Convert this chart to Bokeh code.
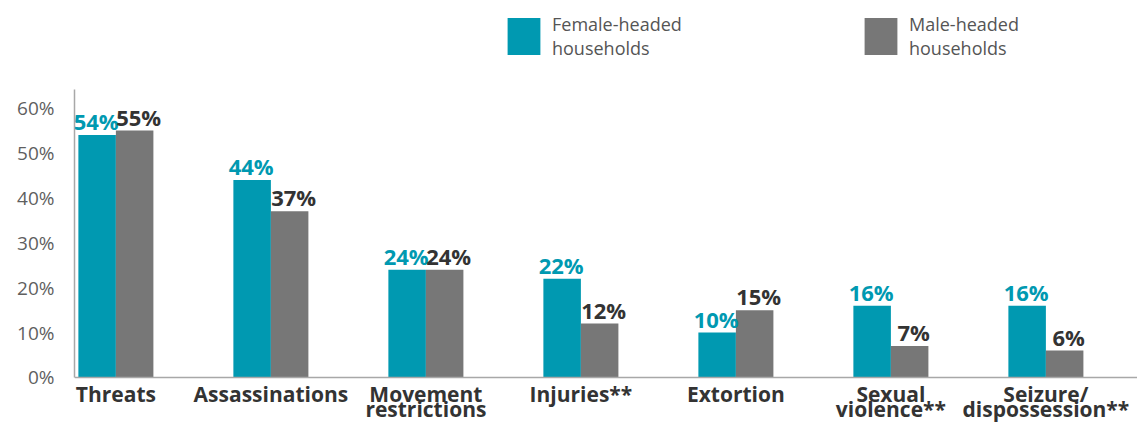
from bokeh.plotting import figure
from bokeh.models import (ColumnDataSource, FixedTicker, LabelSet, Legend, LegendItem,
                          Range1d, Span)
from bokeh.core.properties import value
from bokeh.embed import file_html
from bokeh.resources import INLINE

# ---- data ----
categories = ["Threats", "Assassinations", "Movement\nrestrictions", "Injuries**",
              "Extortion", "Sexual\nviolence**", "Seizure/\ndispossession**"]
female = [54, 44, 24, 22, 10, 16, 16]
male = [55, 37, 24, 12, 15, 7, 6]
series_names = ["Female-headed\nhouseholds", "Male-headed\nhouseholds"]
y_ticks = [0, 10, 20, 30, 40, 50, 60]
y_tick_labels = ["0%", "10%", "20%", "30%", "40%", "50%", "60%"]

TEAL = "#0099B1"
GREY = "#777777"
DARK = "#333333"
AXIS = "#a8a8a8"
FONT = "Open Sans"

pos = list(range(len(categories)))
bw = 0.242
cat_lines = [c.split("\n") + [""] * (2 - len(c.split("\n"))) for c in categories]

src = ColumnDataSource(dict(
    pos=pos,
    xf=[p_ - bw / 2 for p_ in pos],
    xm=[p_ + bw / 2 for p_ in pos],
    female=female,
    male=male,
    flab=[f"{v}%" for v in female],
    mlab=[f"{v}%" for v in male],
    cat1=[l[0] for l in cat_lines],
    cat2=[l[1] for l in cat_lines],
    zero=[0] * len(categories),
))

p = figure(width=1137, height=423, output_backend="svg", toolbar_location=None,
           x_range=Range1d(-0.267, 6.591), y_range=Range1d(-10.245, 83.96),
           x_axis_location=None,
           min_border_left=74, min_border_right=0, min_border_top=0,
           min_border_bottom=0)
p.outline_line_color = None
p.xgrid.grid_line_color = None
p.ygrid.grid_line_color = None
p.background_fill_color = None
p.border_fill_color = None

rf = p.vbar(x="xf", top="female", width=bw, bottom=0, source=src,
            fill_color=TEAL, line_color=None)
rm = p.vbar(x="xm", top="male", width=bw, bottom=0, source=src,
            fill_color=GREY, line_color=None)

# y axis
p.yaxis.ticker = FixedTicker(ticks=y_ticks)
p.yaxis.major_label_overrides = {t: l for t, l in zip(y_ticks, y_tick_labels)}
p.yaxis.bounds = (0, 64.1)
p.yaxis.major_tick_line_color = None
p.yaxis.minor_tick_line_color = None
p.yaxis.major_tick_out = 0
p.yaxis.major_tick_in = 0
p.yaxis.major_label_standoff = 20
p.yaxis.major_label_text_font = FONT
p.yaxis.major_label_text_font_size = "19px"
p.yaxis.major_label_text_color = "#5f5f5f"
p.yaxis.axis_line_color = AXIS
p.yaxis.axis_line_width = 1.5

# category baseline (x axis line)
p.add_layout(Span(location=0, dimension="width", line_color=AXIS, line_width=1.5))

# category labels (two centred lines)
for col, off in (("cat1", -25), ("cat2", -40)):
    p.add_layout(LabelSet(x="pos", y="zero", text=col, source=src, y_offset=off,
                          text_align="center", text_baseline="alphabetic",
                          text_font=value(FONT), text_font_style="bold",
                          text_font_size="21px", text_color=DARK))

# value labels
p.add_layout(LabelSet(x="xf", y="female", text="flab", source=src, y_offset=5,
                      x_offset=-1,
                      text_align="center", text_baseline="alphabetic",
                      text_font=value(FONT), text_font_style="bold",
                      text_font_size="22px", text_color=TEAL))
p.add_layout(LabelSet(x="xm", y="male", text="mlab", source=src, y_offset=5,
                      x_offset=4,
                      text_align="center", text_baseline="alphabetic",
                      text_font=value(FONT), text_font_style="bold",
                      text_font_size="22px", text_color=DARK))

legend = Legend(items=[LegendItem(label=series_names[0], renderers=[rf]),
                       LegendItem(label=series_names[1], renderers=[rm])],
                orientation="horizontal", location=(429, 363),
                glyph_width=41, glyph_height=46, label_standoff=8,
                label_width=150, spacing=158, padding=0, margin=0,
                border_line_color=None, background_fill_alpha=0,
                label_text_font=FONT, label_text_font_size="18px",
                label_text_color="#555555", label_text_line_height=2.0)
p.add_layout(legend, "center")

open("out.html", "w").write(file_html(p, INLINE))
